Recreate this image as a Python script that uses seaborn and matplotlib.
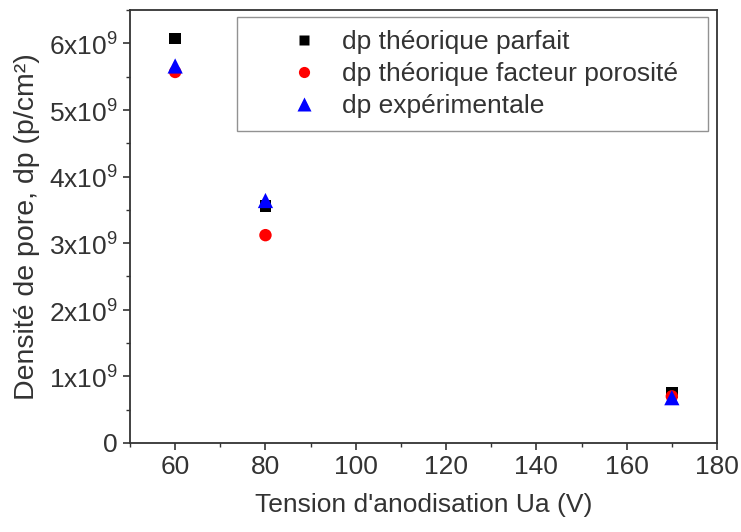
import numpy as np
import pandas as pd
import matplotlib
matplotlib.use('Agg')
import matplotlib.pyplot as plt
import seaborn as sns
from matplotlib.ticker import MultipleLocator, FuncFormatter

# Données
tension = [60, 80, 170]
dp_parfait = [6.07e9, 3.56e9, 0.76e9]
dp_porosite = [5.57e9, 3.12e9, 0.70e9]
dp_experimental = [5.66e9, 3.64e9, 0.68e9]
series = ['dp théorique parfait', 'dp théorique facteur porosité', 'dp expérimentale']

df = pd.DataFrame({
    'Ua': tension * 3,
    'dp': dp_parfait + dp_porosite + dp_experimental,
    'serie': [series[0]] * 3 + [series[1]] * 3 + [series[2]] * 3,
})

sns.set_style("ticks")
plt.rcParams['font.family'] = ['Liberation Sans', 'DejaVu Sans']
plt.rcParams['mathtext.fontset'] = 'custom'
plt.rcParams['mathtext.rm'] = 'Liberation Sans'

gris = '#333333'
fig = plt.figure(figsize=(7.41, 5.32), dpi=100)
# axes : gauche 130 px, droite 717 px, haut 10 px, bas 443 px
ax = fig.add_axes([130 / 741, 89 / 532, 587 / 741, 433 / 532])

sns.scatterplot(data=df, x='Ua', y='dp', hue='serie', style='serie', size='serie',
                hue_order=series, style_order=series, size_order=series,
                palette=['black', 'red', 'blue'],
                markers=['s', 'o', '^'],
                sizes={series[0]: 70, series[1]: 80, series[2]: 120},
                edgecolor='none', ax=ax)

ax.set_xlim(50, 180)
ax.set_ylim(0, 6.5e9)
ax.xaxis.set_major_locator(MultipleLocator(20))
ax.xaxis.set_minor_locator(MultipleLocator(10))
ax.yaxis.set_major_locator(MultipleLocator(1e9))
ax.yaxis.set_minor_locator(MultipleLocator(0.5e9))

def fmt_y(v, pos):
    n = int(round(v / 1e9))
    return '0' if n == 0 else f'{n}x10$^{{9}}$'

ax.yaxis.set_major_formatter(FuncFormatter(fmt_y))
ax.tick_params(which='major', direction='out', length=5, width=1.2, pad=4,
               labelsize=19, colors=gris)
ax.tick_params(which='minor', direction='out', length=3, width=1.0, colors=gris)
for sp in ax.spines.values():
    sp.set_visible(True)
    sp.set_linewidth(1.3)
    sp.set_color(gris)

ax.set_xlabel("Tension d'anodisation Ua (V)", fontsize=19, labelpad=10, color=gris)
ax.set_ylabel('Densité de pore, dp (p/cm²)', fontsize=20.5, labelpad=6, color=gris)

leg = ax.legend(loc='upper left', bbox_to_anchor=(0.182, 0.741, 0.803, 0.243),
                mode='expand', borderaxespad=0, fontsize=19,
                frameon=True, fancybox=False, edgecolor='#777777',
                handlelength=4.1, handletextpad=-0.6, borderpad=0.5,
                labelspacing=0.3, markerscale=0.9)
leg.get_frame().set_linewidth(1.0)
for t in leg.get_texts():
    t.set_color(gris)

fig.savefig('out.png', dpi=100)
